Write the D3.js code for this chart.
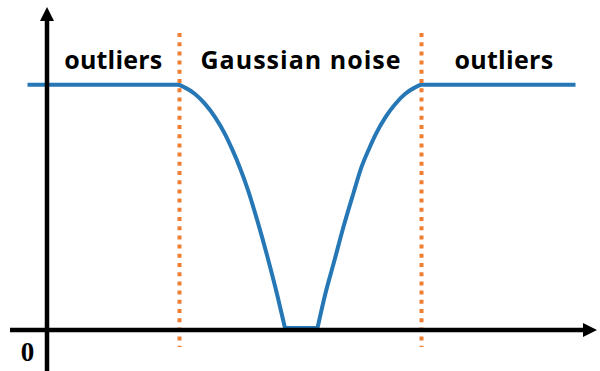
<!DOCTYPE html>
<html>
<head>
<meta charset="utf-8">
<script src="https://cdn.jsdelivr.net/npm/d3@7"></script>
<style>
  html, body { margin: 0; padding: 0; background: #fff; }
  svg { display: block; }
</style>
</head>
<body>
<svg id="chart" width="600" height="371"></svg>
<script>
// Loss as a function of the residual: capped for outliers, falling through the
// Gaussian-noise band, and zero in a small zone around the centre.
const leftResidual = [-13.7, -6.175, -5.825, -5.325, -4.825, -4.325, -3.825, -3.475,
                      -3.075, -2.675, -2.175, -1.675, -1.225, -0.825];
const leftLoss     = [1.0, 1.0, 0.988, 0.962, 0.921, 0.867, 0.797, 0.736,
                      0.658, 0.567, 0.432, 0.284, 0.140, 0.0];
const rightResidual = [0.8, 1.19, 1.625, 2.11, 2.6, 2.985, 3.375, 3.715,
                       4.2, 4.69, 5.175, 5.66, 6.0, 13.7];
const rightLoss     = [0.0, 0.140, 0.271, 0.419, 0.555, 0.658, 0.736, 0.797,
                       0.867, 0.921, 0.962, 0.988, 1.0, 1.0];

// Boundaries between the outlier regions and the noise band
const boundaries = [-6.1, 6.0];
const regionLabels = ["outliers", "Gaussian noise", "outliers"];
const originLabel = "0";

const svg = d3.select("#chart");

const x = d3.scaleLinear().domain([-13.7, 13.7]).range([27.5, 575.5]);
const y = d3.scaleLinear().domain([0, 1]).range([328, 84.7]);

const axisX = 47;      // vertical axis position (px)
const axisY = 330;     // horizontal axis position (px)
const rightEnd = 586;  // end of the horizontal arrow shaft

const blue = "#2677b6";

// Each branch is smoothed on its own so the corners at zero stay sharp
const line = d3.line()
  .x(d => x(d[0]))
  .y(d => y(d[1]))
  .curve(d3.curveMonotoneX);

const branches = [
  d3.zip(leftResidual, leftLoss),
  [[leftResidual[leftResidual.length - 1], 0], [rightResidual[0], 0]],
  d3.zip(rightResidual, rightLoss)
];

svg.selectAll("path.loss")
  .data(branches)
  .join("path")
  .attr("class", "loss")
  .attr("d", line)
  .attr("fill", "none")
  .attr("stroke", blue)
  .attr("stroke-width", 4)
  .attr("stroke-linejoin", "round");

// Dotted region boundaries
svg.selectAll("line.boundary")
  .data(boundaries)
  .join("line")
  .attr("class", "boundary")
  .attr("x1", d => x(d)).attr("x2", d => x(d))
  .attr("y1", 33).attr("y2", 347)
  .attr("stroke", "#ef7e32")
  .attr("stroke-width", 4)
  .attr("stroke-dasharray", "4,5.2");

// Axes with arrowheads
svg.append("line")
  .attr("x1", 10).attr("x2", rightEnd)
  .attr("y1", axisY).attr("y2", axisY)
  .attr("stroke", "#000").attr("stroke-width", 4.5);
svg.append("path")
  .attr("d", `M${rightEnd - 3},${axisY - 7} L597,${axisY} L${rightEnd - 3},${axisY + 7} Z`)
  .attr("fill", "#000");

svg.append("line")
  .attr("x1", axisX).attr("x2", axisX)
  .attr("y1", 18).attr("y2", 371)
  .attr("stroke", "#000").attr("stroke-width", 4.5);
svg.append("path")
  .attr("d", `M${axisX - 7},21 L${axisX},7 L${axisX + 7},21 Z`)
  .attr("fill", "#000");

// Region labels centred in each region, spaced to their box widths
const edges = [x.invert(axisX), boundaries[0], boundaries[1], x.invert(rightEnd)];
const targetWidths = [98, 201, 99];
regionLabels.forEach((label, i) => {
  const cx = (x(edges[i]) + x(edges[i + 1])) / 2;
  const t = svg.append("text")
    .attr("x", cx)
    .attr("y", 69)
    .attr("text-anchor", "middle")
    .attr("font-family", "'Open Sans', 'Noto Sans', sans-serif")
    .attr("font-weight", 700)
    .attr("font-size", 25)
    .attr("fill", "#000")
    .text(label);
  const w = t.node().getComputedTextLength();
  const spacing = (targetWidths[i] - w) / label.length;
  t.attr("letter-spacing", spacing)
   .attr("dx", spacing / 2);
});

// Origin label
svg.append("text")
  .attr("x", 27.5)
  .attr("y", 361)
  .attr("text-anchor", "middle")
  .attr("font-family", "'Liberation Serif', 'Times New Roman', serif")
  .attr("font-weight", "bold")
  .attr("font-size", 27)
  .attr("fill", "#000")
  .text(originLabel);
</script>
</body>
</html>
